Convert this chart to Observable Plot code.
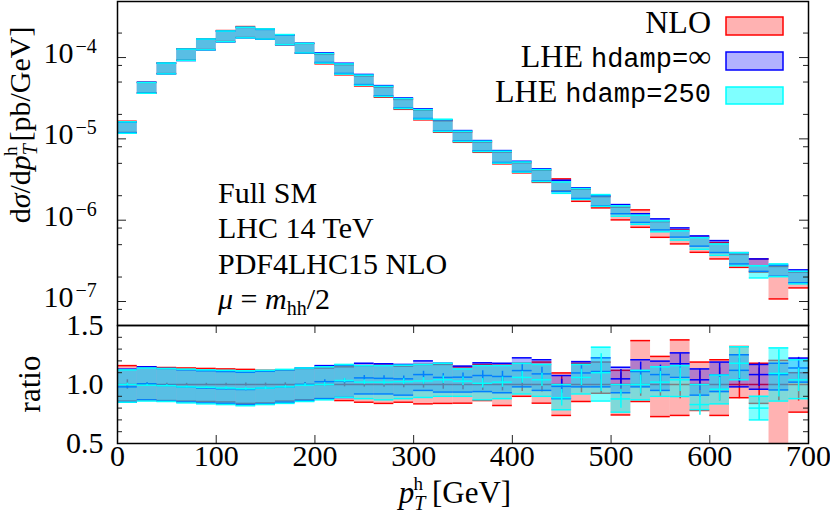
<!DOCTYPE html>
<html><head><meta charset="utf-8">
<script src="https://cdn.jsdelivr.net/npm/d3@7"></script>
<script src="https://cdn.jsdelivr.net/npm/@observablehq/plot@0.6"></script>
<style>
body{margin:0;background:#fff;}
#wrap{position:relative;width:830px;height:515px;overflow:hidden;font-family:"Liberation Serif",serif;}
#topPanel,#botPanel{position:absolute;left:0;}
#topPanel{top:0;}
#botPanel{top:325px;}
#ov{position:absolute;left:0;top:0;pointer-events:none;}
</style></head>
<body><div id="wrap"><div id="topPanel"></div><div id="botPanel"></div>
<svg id="ov" width="830" height="515" font-family="Liberation Serif, serif" font-size="30" fill="#000" xml:space="preserve">
  <text transform="translate(30,125) rotate(-90)" text-anchor="middle">d<tspan font-style="italic">σ</tspan>/d<tspan font-style="italic">p</tspan><tspan font-size="20" dy="7" font-style="italic">T</tspan><tspan font-size="19" dy="-20" dx="-12">h</tspan><tspan dy="13" dx="5">[pb/GeV]</tspan></text>
  <text transform="translate(40,384) rotate(-90)" text-anchor="middle" font-size="31">ratio</text>
  <text x="455" y="503" text-anchor="middle" font-size="31"><tspan font-style="italic">p</tspan><tspan font-size="20" dy="7" font-style="italic">T</tspan><tspan font-size="19" dy="-20" dx="-12">h</tspan><tspan dy="13" dx="9">[GeV]</tspan></text>
  <text x="218" y="203">Full SM</text>
  <text x="218" y="238">LHC 14 TeV</text>
  <text x="218" y="274">PDF4LHC15 NLO</text>
  <text x="218" y="309"><tspan font-style="italic">μ</tspan> = <tspan font-style="italic">m</tspan><tspan font-size="20" dy="6">hh</tspan><tspan dy="-6">/2</tspan></text>
  <text x="711" y="33" text-anchor="end" font-size="32">NLO</text>
  <text x="711" y="67" text-anchor="end" font-size="32">LHE <tspan font-family="Liberation Mono, monospace" font-size="27">hdamp=</tspan>∞</text>
  <text x="711" y="102" text-anchor="end" font-size="32">LHE <tspan font-family="Liberation Mono, monospace" font-size="27">hdamp=250</tspan></text>
  <rect x="726" y="17" width="57" height="18" fill="#ff0000" fill-opacity="0.3" stroke="#ff0000" stroke-width="1.5"/>
  <rect x="726" y="52" width="57" height="18" fill="#0000ff" fill-opacity="0.3" stroke="#0000ff" stroke-width="1.5"/>
  <rect x="726" y="87" width="57" height="17" fill="#00ffff" fill-opacity="0.5" stroke="#00ffff" stroke-width="1.5"/>
</svg>
</div>
<script>
// ---------------- data ----------------
const ptEdges = [0,20,40,60,80,100,120,140,160,180,200,220,240,260,280,300,320,340,360,380,400,420,440,460,480,500,520,540,560,580,600,620,640,660,680,700];

// upper panel: dσ/dpT bands [pb/GeV]
const nloTopLo = [1.20e-5,3.68e-5,6.35e-5,9.3e-5,1.255e-4,1.575e-4,1.765e-4,1.70e-4,1.433e-4,1.13e-4,8.37e-5,6.13e-5,4.47e-5,3.25e-5,2.31e-5,1.713e-5,1.206e-5,9.08e-6,6.84e-6,4.93e-6,3.82e-6,2.92e-6,2.30e-6,1.708e-6,1.417e-6,1.009e-6,8.18e-7,6.16e-7,5.11e-7,4.03e-7,3.34e-7,2.63e-7,2.30e-7,1.076e-7,1.47e-7];
const nloTopHi = [1.646e-5,4.95e-5,8.60e-5,1.279e-4,1.698e-4,2.148e-4,2.405e-4,2.254e-4,1.90e-4,1.49e-4,1.096e-4,8.17e-5,5.95e-5,4.34e-5,3.06e-5,2.25e-5,1.67e-5,1.215e-5,9.15e-6,6.89e-6,5.09e-6,4.11e-6,3.22e-6,2.40e-6,1.95e-6,1.45e-6,1.339e-6,9.6e-7,7.6e-7,6.2e-7,5.3e-7,3.8e-7,3.34e-7,2.7e-7,2.3e-7];
const infTopLo = [1.19e-5,3.66e-5,6.32e-5,9.19e-5,1.243e-4,1.56e-4,1.75e-4,1.68e-4,1.44e-4,1.14e-4,8.70e-5,6.38e-5,4.65e-5,3.38e-5,2.40e-5,1.78e-5,1.25e-5,9.44e-6,7.11e-6,5.13e-6,3.97e-6,3.04e-6,2.25e-6,1.85e-6,1.50e-6,1.20e-6,9.4e-7,7.6e-7,6.2e-7,4.8e-7,4.0e-7,2.9e-7,2.35e-7,2.05e-7,1.70e-7];
const infTopHi = [1.60e-5,4.97e-5,8.52e-5,1.265e-4,1.68e-4,2.11e-4,2.35e-4,2.22e-4,1.89e-4,1.50e-4,1.142e-4,8.51e-5,6.2e-5,4.52e-5,3.19e-5,2.34e-5,1.72e-5,1.265e-5,9.53e-6,7.18e-6,5.30e-6,4.28e-6,3.10e-6,2.50e-6,2.00e-6,1.556e-6,1.20e-6,1.038e-6,8.04e-7,6.41e-7,5.61e-7,3.99e-7,3.34e-7,2.8e-7,2.45e-7];
const h250TopLo = [1.172e-5,3.64e-5,6.30e-5,9.22e-5,1.245e-4,1.565e-4,1.747e-4,1.69e-4,1.44e-4,1.14e-4,8.54e-5,6.25e-5,4.56e-5,3.32e-5,2.36e-5,1.75e-5,1.23e-5,9.26e-6,6.98e-6,5.03e-6,3.90e-6,2.98e-6,2.14e-6,1.80e-6,1.48e-6,1.12e-6,8.9e-7,7.2e-7,5.7e-7,4.4e-7,3.7e-7,2.75e-7,1.95e-7,2.02e-7,1.646e-7];
const h250TopHi = [1.62e-5,4.93e-5,8.56e-5,1.27e-4,1.69e-4,2.12e-4,2.36e-4,2.25e-4,1.918e-4,1.495e-4,1.12e-4,8.34e-5,6.08e-5,4.43e-5,3.13e-5,2.29e-5,1.742e-5,1.24e-5,9.34e-6,7.04e-6,5.19e-6,4.19e-6,2.95e-6,2.45e-6,2.065e-6,1.50e-6,1.15e-6,9.8e-7,7.4e-7,6.1e-7,5.1e-7,3.99e-7,2.75e-7,2.90e-7,2.35e-7];

// lower panel: ratio to NLO
const nloRatioLo  = [0.86,0.87,0.864,0.86,0.856,0.852,0.84,0.844,0.86,0.87,0.88,0.864,0.85,0.84,0.85,0.836,0.84,0.842,0.864,0.822,0.9,0.842,0.738,0.856,0.926,0.742,0.856,0.728,0.738,0.78,0.738,0.888,0.84,0.4,0.766];
const nloRatioHi  = [1.16,1.15,1.144,1.14,1.136,1.132,1.128,1.12,1.124,1.136,1.14,1.15,1.16,1.164,1.156,1.17,1.17,1.15,1.17,1.164,1.18,1.19,1.098,1.18,1.19,1.12,1.372,1.238,1.378,1.19,1.21,1.322,1.18,1.204,1.10];
const nloRatioErr = [0.04,0.012,0.01,0.01,0.01,0.01,0.012,0.012,0.014,0.016,0.018,0.02,0.022,0.024,0.028,0.03,0.04,0.044,0.05,0.054,0.06,0.064,0.07,0.07,0.08,0.1,0.1,0.11,0.12,0.11,0.14,0.12,0.14,0.14,0.14];

const infRatio    = [0.98,1.006,0.992,0.98,0.97,0.964,0.958,0.968,0.98,1.0,1.024,1.03,1.056,1.052,1.048,1.084,1.06,1.062,1.076,1.068,1.118,1.09,0.984,1.098,1.11,1.048,1.11,1.084,1.176,1.04,1.08,1.12,1.084,1.084,1.14];
const infRatioLo  = [0.85,0.87,0.86,0.852,0.844,0.84,0.83,0.836,0.85,0.864,0.88,0.89,0.92,0.92,0.91,0.95,0.936,0.936,0.94,0.93,0.98,0.95,0.88,0.98,0.98,0.93,0.98,0.95,1.06,0.91,0.94,0.98,0.96,0.954,1.02];
const infRatioHi  = [1.13,1.15,1.136,1.124,1.116,1.11,1.104,1.112,1.124,1.14,1.16,1.164,1.18,1.176,1.17,1.2,1.18,1.156,1.184,1.18,1.226,1.21,1.076,1.194,1.226,1.146,1.21,1.198,1.268,1.132,1.19,1.252,1.17,1.18,1.224];
const infRatioErr = [0.012,0.008,0.008,0.008,0.008,0.008,0.01,0.01,0.012,0.014,0.016,0.018,0.02,0.022,0.024,0.028,0.032,0.036,0.04,0.044,0.05,0.056,0.06,0.064,0.07,0.08,0.08,0.08,0.084,0.09,0.1,0.1,0.1,0.11,0.09];

const h250Ratio    = [1.0,0.994,0.99,0.98,0.976,0.97,0.964,0.97,0.98,0.994,1.0,1.034,1.02,1.02,1.024,1.03,1.04,1.028,1.01,1.02,1.06,1.04,0.888,1.06,1.1,0.878,1.0,1.02,1.04,0.83,0.96,1.18,0.80,1.094,1.04];
const h250RatioLo  = [0.85,0.86,0.856,0.844,0.836,0.83,0.82,0.83,0.84,0.856,0.87,0.89,0.88,0.87,0.88,0.89,0.9,0.9,0.87,0.88,0.92,0.9,0.786,0.92,0.86,0.766,0.87,0.9,0.898,0.786,0.836,1.04,0.70,0.86,0.88];
const h250RatioHi  = [1.124,1.14,1.136,1.13,1.124,1.12,1.116,1.12,1.128,1.14,1.15,1.17,1.16,1.16,1.164,1.17,1.18,1.132,1.16,1.16,1.18,1.17,1.0,1.17,1.316,1.0,1.12,1.15,1.16,1.0,1.08,1.32,0.90,1.31,1.21];
const h250RatioErr = [0.012,0.008,0.008,0.008,0.008,0.01,0.01,0.012,0.012,0.014,0.016,0.018,0.02,0.022,0.024,0.028,0.032,0.036,0.04,0.044,0.05,0.056,0.07,0.07,0.16,0.08,0.08,0.09,0.1,0.09,0.1,0.13,0.105,0.2,0.1];

// axis ticks
const xTicks = [0,100,200,300,400,500,600,700];
const yDecades = [1e-7,1e-6,1e-5,1e-4];
const yDecadeExp = ["−7","−6","−5","−4"];
const yMinor = [8e-8,2e-7,5e-7,8e-7,2e-6,5e-6,8e-6,2e-5,5e-5,8e-5,2e-4];
const rTicks = [0.5,1.0,1.5];
const rMinor = [0.6,0.7,0.8,0.9,1.1,1.2,1.3,1.4];

// ---------------- build ----------------
const seriesDefs = [
  {top:[nloTopLo,nloTopHi], r:[null,nloRatioLo,nloRatioHi,nloRatioErr], color:"#ff0000", op:0.3},
  {top:[infTopLo,infTopHi], r:[infRatio,infRatioLo,infRatioHi,infRatioErr], color:"#0000ff", op:0.3},
  {top:[h250TopLo,h250TopHi], r:[h250Ratio,h250RatioLo,h250RatioHi,h250RatioErr], color:"#00ffff", op:0.5}
];
function rowsOf(s){
  return s.top[0].map((_,i)=>({
    x1: ptEdges[i], x2: ptEdges[i+1], xm: (ptEdges[i]+ptEdges[i+1])/2,
    tlo: s.top[0][i], thi: s.top[1][i],
    c: s.r[0] ? s.r[0][i] : 1, lo: s.r[1][i], hi: s.r[2][i], e: s.r[3][i]
  }));
}
const W = 830, ML = 117, MR = 22, IW = W-ML-MR;
const tickCol = "#222";

const topMarks = [];
const botMarks = [];
for (const s of seriesDefs){
  const rows = rowsOf(s);
  topMarks.push(
    Plot.rect(rows,{x1:"x1",x2:"x2",y1:"tlo",y2:"thi",fill:s.color,fillOpacity:s.op,clip:true}),
    Plot.ruleY(rows,{y:"tlo",x1:"x1",x2:"x2",stroke:s.color,strokeWidth:1.5,clip:true}),
    Plot.ruleY(rows,{y:"thi",x1:"x1",x2:"x2",stroke:s.color,strokeWidth:1.5,clip:true})
  );
  botMarks.push(
    Plot.rect(rows,{x1:"x1",x2:"x2",y1:"lo",y2:"hi",fill:s.color,fillOpacity:s.op,clip:true}),
    Plot.ruleY(rows,{y:"lo",x1:"x1",x2:"x2",stroke:s.color,strokeWidth:1.5,clip:true}),
    Plot.ruleY(rows,{y:"hi",x1:"x1",x2:"x2",stroke:s.color,strokeWidth:1.5,clip:true}),
    Plot.ruleY(rows,{y:"c",x1:"x1",x2:"x2",stroke:s.color,strokeWidth:1.5,clip:true}),
    Plot.ruleX(rows,{x:"xm",y1:d=>d.c-d.e,y2:d=>d.c+d.e,stroke:s.color,strokeWidth:1.5,clip:true})
  );
}

const topChart = Plot.plot({
  width: W, height: 326, marginLeft: ML, marginRight: MR, marginTop: 1, marginBottom: 1,
  style:{fontFamily:"Liberation Serif, serif", fontSize:"30px", overflow:"visible", background:"transparent"},
  x:{domain:[0,700], axis:null},
  y:{type:"log", domain:[5.07e-8,4.89e-4], axis:null},
  marks:[
    ...topMarks,
    Plot.tickY(yDecades,{y:d=>d, insetRight:IW-9, stroke:tickCol}),
    Plot.tickY(yDecades,{y:d=>d, insetLeft:IW-9, stroke:tickCol}),
    Plot.tickY(yMinor,{y:d=>d, insetRight:IW-5, stroke:tickCol}),
    Plot.tickY(yMinor,{y:d=>d, insetLeft:IW-5, stroke:tickCol}),
    Plot.text(yDecades,{y:d=>d, text:()=>"10", frameAnchor:"left", dx:-44, dy:-4, textAnchor:"end", fontSize:30}),
    Plot.text(yDecades,{y:d=>d, text:(d,i)=>yDecadeExp[i], frameAnchor:"left", dx:-42, dy:-11, textAnchor:"start", fontSize:20}),
    Plot.frame({stroke:"#000", strokeWidth:1.5})
  ]
});
document.getElementById("topPanel").appendChild(topChart);

const botChart = Plot.plot({
  width: W, height: 190, marginLeft: ML, marginRight: MR, marginTop: 0, marginBottom: 72,
  style:{fontFamily:"Liberation Serif, serif", fontSize:"30px", overflow:"visible", background:"transparent"},
  x:{domain:[0,700], axis:null},
  y:{domain:[0.5,1.5], axis:null},
  marks:[
    ...botMarks,
    Plot.tickY(rMinor,{y:d=>d, insetRight:IW-5, stroke:tickCol}),
    Plot.tickY(rMinor,{y:d=>d, insetLeft:IW-5, stroke:tickCol}),
    Plot.tickX(xTicks.slice(1,-1),{x:d=>d, insetBottom:118-8, stroke:tickCol}),
    Plot.tickX(xTicks.slice(1,-1),{x:d=>d, insetTop:118-8, stroke:tickCol}),
    Plot.text(rTicks,{y:d=>d, text:d=>d.toFixed(1), frameAnchor:"left", dx:-14, textAnchor:"end", fontSize:30}),
    Plot.text(xTicks,{x:d=>d, text:d=>String(d), frameAnchor:"bottom", dy:22, fontSize:30}),
    Plot.frame({stroke:"#000", strokeWidth:1.5})
  ]
});
document.getElementById("botPanel").appendChild(botChart);
</script>
</body></html>
